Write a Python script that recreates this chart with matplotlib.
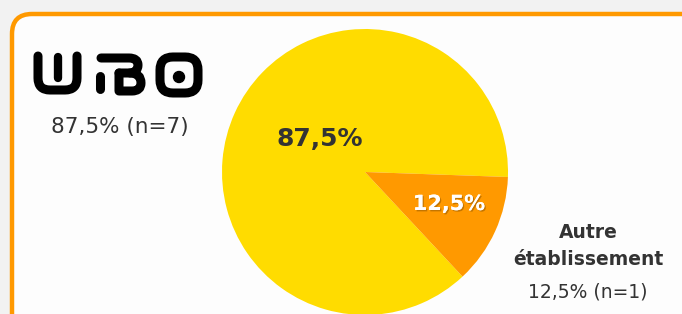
import matplotlib.pyplot as plt
import matplotlib.patheffects as pe
from matplotlib.patches import FancyBboxPatch, PathPatch, Circle
from matplotlib.path import Path

labels = ["UBO", "Autre\nétablissement"]
shares = [87.5, 12.5]
counts = [7, 1]
colors = ["#ffdc00", "#ff9900"]

plt.rcParams['font.family'] = ['DejaVu Sans']

W, H = 682, 314
fig = plt.figure(figsize=(W / 100, H / 100), dpi=100)
fig.patch.set_facecolor("#f2f2f2")
ax = fig.add_axes([0, 0, 1, 1])

# card with orange rounded border
card = FancyBboxPatch((12, -60), 720, 360, boxstyle="round,pad=0,rounding_size=20",
                      facecolor="#fdfdfd", edgecolor="#ff9900", linewidth=3.2, zorder=1)
ax.add_patch(card)

wedges, _ = ax.pie(shares, colors=colors, startangle=-47, counterclock=False,
                   center=(365, 142), radius=143, frame=True,
                   wedgeprops=dict(linewidth=0, zorder=2))
ax.set_xlim(0, W)
ax.set_ylim(0, H)
ax.set_aspect("equal")
ax.axis("off")

def fmt(v):
    return f"{v:.1f}".replace(".", ",") + "%"

txt_col = "#333333"
ax.text(320, H - 139, fmt(shares[0]), ha="center", va="center",
        fontsize=18, fontweight="bold", color=txt_col, zorder=3)
ax.text(449, H - 204, fmt(shares[1]), ha="center", va="center",
        fontsize=15, fontweight="bold", color="white", zorder=3,
        path_effects=[pe.withSimplePatchShadow(offset=(1, -1), shadow_rgbFace="#8a5200", alpha=0.5),
                      pe.Normal()])

# UBO logo, drawn as strokes (image pixel coords, y down)
M, L, Q = Path.MOVETO, Path.LINETO, Path.CURVE3
def stroke(pts, codes, lw=6.5):
    p = Path([(x, H - y) for x, y in pts], codes)
    ax.add_patch(PathPatch(p, facecolor="none", edgecolor="black", linewidth=lw,
                           capstyle="round", joinstyle="round", zorder=3))

stroke([(38, 56), (38, 78), (38, 90), (50, 90), (65, 90), (77, 90), (77, 78), (77, 56)],
       [M, L, Q, Q, L, Q, Q, L])
stroke([(57.5, 57), (57.5, 78)], [M, L], lw=6)
stroke([(100, 76), (100, 89)], [M, L])
stroke([(101, 58), (129, 58), (138, 58), (138, 65), (138, 73), (129, 73), (119, 73)],
       [M, L, Q, Q, Q, Q, L])
stroke([(119, 73), (119, 91), (132, 91), (141, 91), (141, 83), (141, 73), (130, 73)],
       [M, L, L, Q, Q, Q, Q])
ax.add_patch(FancyBboxPatch((160, H - 93), 38, 36, boxstyle="round,pad=0,rounding_size=13",
                            facecolor="none", edgecolor="black", linewidth=6.5, zorder=3))
ax.add_patch(Circle((179, H - 77), 5.5, color="black", zorder=3))

ax.text(120, H - 127, f"{fmt(shares[0])} (n={counts[0]})", ha="center", va="center",
        fontsize=15.5, color=txt_col, zorder=3)

# other label
ax.text(588, H - 246, labels[1], ha="center", va="center", fontsize=13.5,
        fontweight="bold", color=txt_col, linespacing=1.5, zorder=3)
ax.text(588, H - 292, f"{fmt(shares[1])} (n={counts[1]})", ha="center", va="center",
        fontsize=13.5, color=txt_col, zorder=3)

fig.savefig("out.png", dpi=100, facecolor=fig.get_facecolor())
